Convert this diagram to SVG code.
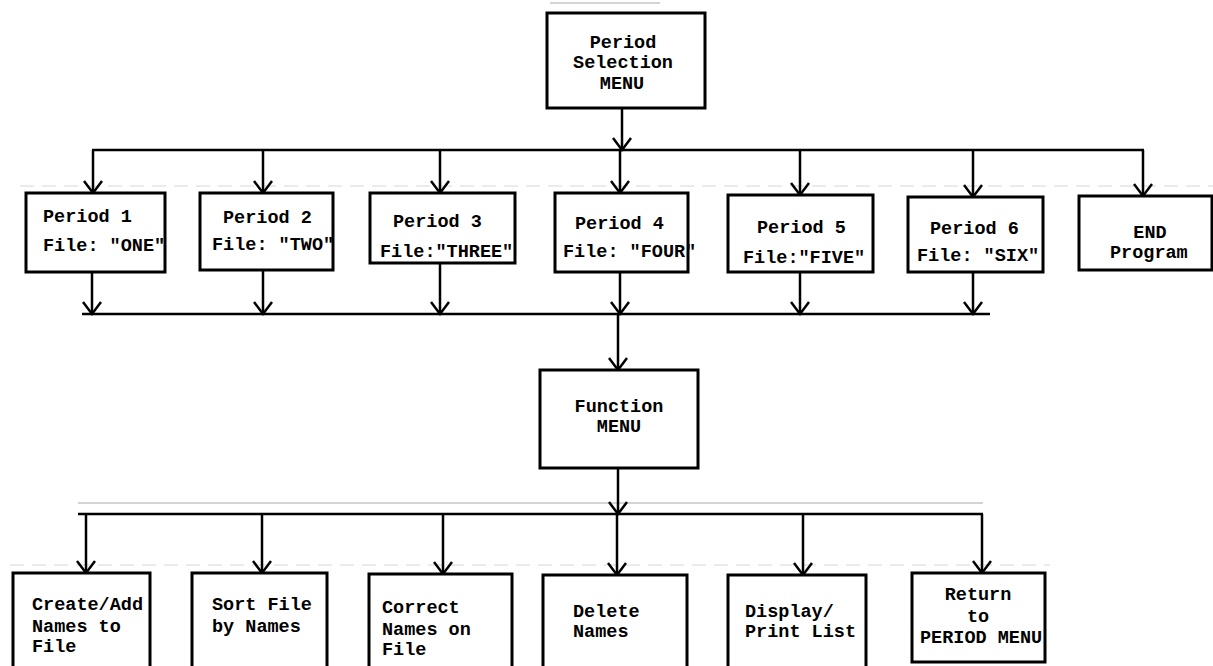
<svg xmlns="http://www.w3.org/2000/svg" width="1213" height="666" viewBox="0 0 1213 666">
<style>
.box{fill:#fff;stroke:#000;stroke-width:3}
.ln{fill:none;stroke:#000;stroke-width:2.5}
.arr{fill:none;stroke:#000;stroke-width:2.5;marker-end:url(#v)}
.t{font-family:"Liberation Mono","DejaVu Sans Mono",monospace;font-weight:bold;font-size:18.5px;fill:#000}
.c{text-anchor:middle}
.faint{fill:none;stroke:#aaa;stroke-width:1.2}
.dash{fill:none;stroke:#ccc;stroke-width:0.8;stroke-dasharray:14 8}
</style>
<defs>
<marker id="v" markerUnits="userSpaceOnUse" markerWidth="30" markerHeight="30" refX="0" refY="0" orient="auto" overflow="visible">
<path d="M-12,-9 L0,0 L-12,9" fill="none" stroke="#000" stroke-width="2.5"/>
</marker>
</defs>
<rect width="1213" height="666" fill="#fff"/>
<g id="artifacts">
<line class="faint" x1="550" y1="3" x2="660" y2="3"/>
<line class="dash" x1="20" y1="186" x2="1213" y2="186"/>
<line class="faint" x1="78" y1="503" x2="983" y2="503"/>
<line class="dash" x1="10" y1="565" x2="1050" y2="565"/>
</g>
<g id="connectors">
<line class="arr" x1="622" y1="108" x2="622" y2="150"/>
<line class="ln" x1="92" y1="150" x2="1144" y2="150"/>
<line class="arr" x1="93" y1="150" x2="93" y2="193"/>
<line class="arr" x1="263" y1="150" x2="263" y2="193"/>
<line class="arr" x1="440" y1="150" x2="440" y2="193"/>
<line class="arr" x1="620" y1="150" x2="620" y2="193"/>
<line class="arr" x1="800" y1="150" x2="800" y2="195"/>
<line class="arr" x1="973" y1="150" x2="973" y2="197"/>
<line class="arr" x1="1143" y1="150" x2="1143" y2="196"/>
<line class="arr" x1="92" y1="272" x2="92" y2="314"/>
<line class="arr" x1="263" y1="270" x2="263" y2="314"/>
<line class="arr" x1="440" y1="263" x2="440" y2="314"/>
<line class="arr" x1="620" y1="272" x2="620" y2="314"/>
<line class="arr" x1="800" y1="272" x2="800" y2="314"/>
<line class="arr" x1="973" y1="272" x2="973" y2="314"/>
<line class="ln" x1="82" y1="314" x2="990" y2="314"/>
<line class="arr" x1="618" y1="314" x2="618" y2="370"/>
<line class="arr" x1="618" y1="468" x2="618" y2="514"/>
<line class="ln" x1="78" y1="514" x2="983" y2="514"/>
<line class="arr" x1="86" y1="514" x2="86" y2="573"/>
<line class="arr" x1="262" y1="514" x2="262" y2="573"/>
<line class="arr" x1="443" y1="514" x2="443" y2="574"/>
<line class="arr" x1="617" y1="514" x2="617" y2="575"/>
<line class="arr" x1="803" y1="514" x2="803" y2="575"/>
<line class="arr" x1="982" y1="514" x2="982" y2="573"/>
</g>
<g id="period-menu">
<rect class="box" x="547" y="13" width="158" height="95"/>
<text class="t c" x="623" y="48">Period</text>
<text class="t c" x="623" y="68">Selection</text>
<text class="t c" x="622" y="89">MENU</text>
</g>
<g id="p1">
<rect class="box" x="26" y="193" width="139" height="79"/>
<text class="t" x="43" y="222">Period 1</text>
<text class="t" x="43" y="251">File: "ONE"</text>
</g>
<g id="p2">
<rect class="box" x="200" y="193" width="133" height="77"/>
<text class="t" x="223" y="223">Period 2</text>
<text class="t" x="212" y="250">File: "TWO"</text>
</g>
<g id="p3">
<rect class="box" x="370" y="193" width="145" height="70"/>
<text class="t" x="393" y="227">Period 3</text>
<text class="t" x="380" y="257">File:"THREE"</text>
</g>
<g id="p4">
<rect class="box" x="555" y="193" width="133" height="79"/>
<text class="t" x="575" y="229">Period 4</text>
<text class="t" x="563" y="257">File: "FOUR"</text>
</g>
<g id="p5">
<rect class="box" x="728" y="195" width="145" height="77"/>
<text class="t" x="757" y="233">Period 5</text>
<text class="t" x="743" y="263">File:"FIVE"</text>
</g>
<g id="p6">
<rect class="box" x="908" y="197" width="135" height="75"/>
<text class="t" x="930" y="234">Period 6</text>
<text class="t" x="917" y="261">File: "SIX"</text>
</g>
<g id="end">
<rect class="box" x="1079" y="196" width="133" height="74"/>
<text class="t" x="1150" y="238" text-anchor="middle">END</text>
<text class="t" x="1110" y="258">Program</text>
</g>
<g id="function-menu">
<rect class="box" x="540" y="370" width="158" height="98"/>
<text class="t c" x="619" y="412">Function</text>
<text class="t c" x="619" y="432">MENU</text>
</g>
<g id="f1">
<rect class="box" x="13" y="573" width="137" height="95"/>
<text class="t" x="32" y="610">Create/Add</text>
<text class="t" x="32" y="632">Names to</text>
<text class="t" x="32" y="652">File</text>
</g>
<g id="f2">
<rect class="box" x="192" y="573" width="135" height="95"/>
<text class="t" x="212" y="610">Sort File</text>
<text class="t" x="212" y="632">by Names</text>
</g>
<g id="f3">
<rect class="box" x="369" y="574" width="143" height="94"/>
<text class="t" x="382" y="613">Correct</text>
<text class="t" x="382" y="635">Names on</text>
<text class="t" x="382" y="655">File</text>
</g>
<g id="f4">
<rect class="box" x="543" y="575" width="144" height="93"/>
<text class="t" x="573" y="617">Delete</text>
<text class="t" x="573" y="637">Names</text>
</g>
<g id="f5">
<rect class="box" x="728" y="575" width="138" height="93"/>
<text class="t" x="745" y="617">Display/</text>
<text class="t" x="745" y="637">Print List</text>
</g>
<g id="f6">
<rect class="box" x="912" y="573" width="133" height="89"/>
<text class="t c" x="978" y="600">Return</text>
<text class="t c" x="978" y="622">to</text>
<text class="t" x="920" y="643">PERIOD MENU</text>
</g>
</svg>
